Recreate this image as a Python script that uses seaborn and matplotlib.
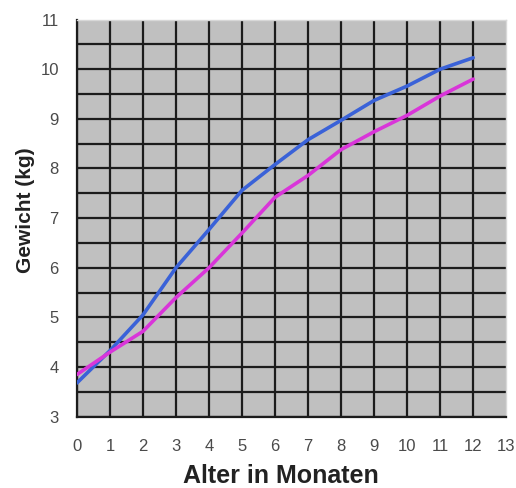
import matplotlib
matplotlib.use("Agg")
import matplotlib.pyplot as plt
import seaborn as sns
import pandas as pd
import numpy as np

months = [0, 1, 2, 3, 4, 5, 6, 7, 8, 9, 10, 11, 12]
boys = [3.68, 4.33, 5.05, 6.0, 6.77, 7.56, 8.08, 8.58, 8.97, 9.37, 9.66, 10.0, 10.23]
girls = [3.85, 4.3, 4.72, 5.4, 6.0, 6.7, 7.42, 7.86, 8.38, 8.74, 9.07, 9.46, 9.8]
x_ticks = list(range(0, 14))
y_ticks = list(range(3, 12))

df = pd.DataFrame({
    "Monat": months * 2,
    "Gewicht": boys + girls,
    "Gruppe": ["Jungen"] * len(months) + ["Mädchen"] * len(months),
})

sns.set_style("white")
plt.rcParams["font.family"] = ["Liberation Sans", "DejaVu Sans"]

fig = plt.figure(figsize=(5.16, 4.88), dpi=100)
ax = fig.add_axes([0.149, 0.146, 0.832, 0.814])
ax.set_facecolor("#c0c0c0")

sns.lineplot(data=df, x="Monat", y="Gewicht", hue="Gruppe",
             palette={"Jungen": "#3a62d8", "Mädchen": "#d935d9"},
             linewidth=2.6, legend=False, ax=ax, zorder=3)

ax.set_xlim(0, 13)
ax.set_ylim(3, 11)
ax.set_xticks(x_ticks)
ax.set_yticks(y_ticks)
ax.set_yticks(np.arange(3.5, 11, 1.0), minor=True)
ax.grid(True, which="major", color="#1c1c1c", linewidth=1.6, zorder=1)
ax.grid(True, which="minor", axis="y", color="#1c1c1c", linewidth=1.6, zorder=1)
ax.set_axisbelow(True)
# hide edge grid lines at x=13 and y=11
ax.xaxis.get_gridlines()[-1].set_visible(False)
ax.yaxis.get_gridlines()[-1].set_visible(False)

for s in ["top", "right"]:
    ax.spines[s].set_color("#d8d8d8")
    ax.spines[s].set_linewidth(1.0)
ax.spines["left"].set_color("#1c1c1c")
ax.spines["bottom"].set_color("#1c1c1c")
ax.spines["left"].set_linewidth(1.6)
ax.spines["bottom"].set_linewidth(1.6)

ax.tick_params(axis="both", which="major", direction="out", length=4, width=1.2,
               color="#1c1c1c", labelsize=12, labelcolor="#4a4a4a")
ax.tick_params(axis="y", which="minor", length=0)
ax.tick_params(axis="x", pad=12)
ax.tick_params(axis="y", pad=9)

ax.set_xlabel("Alter in Monaten", fontsize=18, fontweight="bold", color="#222222")
ax.set_ylabel("Gewicht (kg)", fontsize=15, fontweight="bold", color="#222222")
ax.xaxis.set_label_coords(0.476, -0.118)
ax.yaxis.set_label_coords(-0.098, 0.52)

fig.savefig("out.png", dpi=100)
